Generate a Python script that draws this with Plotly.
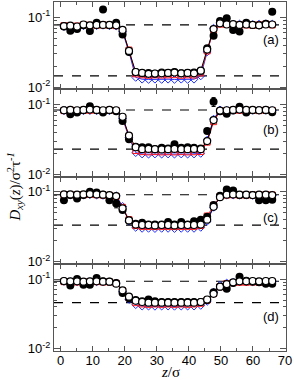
import plotly.graph_objects as go
from plotly.subplots import make_subplots

# ---------------- data ----------------
z = [1.0, 3.0, 5.1, 7.1, 9.1, 11.2, 13.2, 15.2, 17.3, 19.3, 21.3, 23.4, 25.4, 27.4,
     29.4, 31.5, 33.5, 35.5, 37.6, 39.6, 41.6, 43.7, 45.7, 47.7, 49.7, 51.8, 53.8,
     55.8, 57.9, 59.9, 61.9, 64.0, 66.0]

panel_labels = ["(a)", "(b)", "(c)", "(d)"]

open_a = [0.075,0.076,0.074,0.079,0.077,0.078,0.078,0.078,0.077,0.066,0.033,0.0165,
          0.016,0.0155,0.0157,0.0158,0.016,0.0162,0.0158,0.016,0.0158,0.0172,
          0.0345,0.068,0.082,0.079,0.080,0.078,0.079,0.078,0.077,0.079,0.079]
red_a = [0.076,0.075,0.075,0.078,0.077,0.077,0.078,0.077,0.076,0.064,0.034,0.0155,
         0.0150,0.0148,0.0150,0.0149,0.0150,0.0151,0.0148,0.0150,0.0149,0.0160,
         0.033,0.066,0.080,0.079,0.079,0.078,0.078,0.077,0.078,0.080,0.078]
blue_a = [0.074,0.074,0.073,0.076,0.075,0.076,0.077,0.076,0.075,0.062,0.032,0.0138,
          0.0130,0.0129,0.0130,0.0129,0.0130,0.0129,0.0130,0.0129,0.0130,0.0145,
          0.032,0.070,0.084,0.081,0.079,0.080,0.080,0.079,0.080,0.081,0.080]
fill_a = [0.074,0.0645,0.068,0.077,0.0635,0.0836,0.13,0.077,0.0836,0.057,0.032,0.0165,
          0.0158,0.016,0.0155,0.0162,0.016,0.0165,0.0158,0.016,0.0162,0.017,
          0.036,0.0546,0.089,0.097,0.066,0.0625,0.0836,0.078,0.077,0.081,0.12]
err_a = [0,0,0,0,0,0,0,0,0,0,0,0,0,0,0,0,0,0,0,0,0,0,0,0,0,0,0,0,0,0,0,0,0]

open_b = [0.083,0.084,0.083,0.084,0.085,0.084,0.083,0.084,0.083,0.067,0.036,0.0245,
          0.023,0.0232,0.023,0.0228,0.023,0.0232,0.023,0.023,0.0232,0.023,
          0.030,0.060,0.082,0.083,0.084,0.085,0.084,0.084,0.083,0.084,0.083]
red_b = [0.082,0.083,0.082,0.083,0.083,0.083,0.082,0.083,0.082,0.065,0.035,0.022,
         0.0212,0.021,0.0212,0.021,0.0211,0.021,0.0212,0.021,0.0211,0.0213,
         0.029,0.057,0.080,0.082,0.083,0.083,0.082,0.083,0.082,0.083,0.082]
blue_b = [0.082,0.082,0.081,0.082,0.082,0.082,0.081,0.082,0.081,0.063,0.034,0.0205,
          0.0196,0.0195,0.0196,0.0195,0.0196,0.0195,0.0196,0.0195,0.0196,0.020,
          0.031,0.062,0.084,0.083,0.083,0.084,0.083,0.083,0.083,0.083,0.082]
fill_b = [0.083,0.073,0.077,0.083,0.095,0.083,0.077,0.083,0.080,0.058,0.032,0.025,
          0.0245,0.0245,0.023,0.024,0.0235,0.027,0.024,0.0245,0.024,0.0235,
          0.042,0.11,0.080,0.074,0.082,0.093,0.077,0.083,0.083,0.083,0.078]
err_b = [0,0,0,0,0,0,0,0,0,0,0,0,0,0,0,0,0,0,0,0,0,0,0,0.016,0,0,0,0,0,0,0,0,0]

open_c = [0.092,0.092,0.091,0.092,0.093,0.092,0.091,0.090,0.087,0.058,0.039,0.034,
          0.0335,0.0335,0.033,0.0335,0.0335,0.033,0.0335,0.0335,0.0335,0.034,
          0.040,0.061,0.084,0.091,0.092,0.091,0.091,0.090,0.091,0.091,0.090]
red_c = [0.091,0.091,0.090,0.091,0.092,0.091,0.090,0.089,0.086,0.060,0.040,0.033,
         0.032,0.032,0.0318,0.032,0.032,0.0318,0.032,0.032,0.032,0.033,
         0.045,0.064,0.086,0.090,0.091,0.090,0.090,0.090,0.090,0.091,0.090]
blue_c = [0.090,0.090,0.089,0.090,0.091,0.090,0.089,0.089,0.088,0.062,0.038,0.031,
          0.030,0.030,0.0298,0.030,0.030,0.0298,0.030,0.030,0.030,0.031,
          0.038,0.060,0.085,0.090,0.090,0.090,0.090,0.089,0.090,0.090,0.089]
fill_c = [0.076,0.090,0.080,0.090,0.100,0.098,0.091,0.076,0.068,0.055,0.039,0.035,
          0.036,0.034,0.034,0.034,0.037,0.034,0.037,0.034,0.038,0.040,
          0.044,0.065,0.088,0.108,0.105,0.090,0.090,0.090,0.076,0.076,0.077]
err_c = [0,0,0,0,0,0,0,0,0.009,0,0,0,0,0,0,0,0,0,0,0,0,0,0,0,0,0,0,0,0,0,0,0,0]

open_d = [0.094,0.093,0.093,0.092,0.093,0.093,0.092,0.092,0.086,0.069,0.056,0.049,
          0.047,0.046,0.046,0.046,0.046,0.046,0.046,0.046,0.046,0.047,
          0.051,0.0615,0.078,0.085,0.090,0.093,0.093,0.094,0.093,0.094,0.094]
red_d = [0.092,0.092,0.091,0.091,0.092,0.092,0.091,0.091,0.087,0.068,0.054,0.046,
         0.044,0.0435,0.044,0.0435,0.044,0.0435,0.044,0.0435,0.044,0.045,
         0.050,0.062,0.078,0.086,0.089,0.090,0.090,0.091,0.090,0.090,0.091]
blue_d = [0.093,0.092,0.092,0.091,0.092,0.092,0.091,0.091,0.088,0.066,0.051,0.043,
          0.041,0.041,0.0408,0.041,0.041,0.0408,0.041,0.041,0.041,0.042,
          0.048,0.065,0.082,0.088,0.090,0.091,0.091,0.092,0.091,0.091,0.092]
fill_d = [0.093,0.081,0.100,0.083,0.083,0.104,0.093,0.092,0.088,0.063,0.053,0.050,
          0.048,0.051,0.048,0.047,0.047,0.047,0.047,0.047,0.047,0.047,
          0.050,0.065,0.078,0.073,0.088,0.108,0.095,0.092,0.090,0.086,0.086]
err_d = [0,0,0,0,0,0,0,0,0,0,0,0,0,0,0,0,0,0,0,0,0,0,0,0,0,0,0,0,0,0,0,0,0]

upper_ref = [0.078, 0.0835, 0.091, 0.093]
lower_ref = [0.0145, 0.023, 0.0334, 0.046]

x_ticks = [0, 10, 20, 30, 40, 50, 60, 70]
y_tickvals = [0.01, 0.1]
y_ticktext = ["10<sup>-2</sup>", "10<sup>-1</sup>"]

panels = [
    (open_a, red_a, blue_a, fill_a, err_a),
    (open_b, red_b, blue_b, fill_b, err_b),
    (open_c, red_c, blue_c, fill_c, err_c),
    (open_d, red_d, blue_d, fill_d, err_d),
]

# ---------------- figure ----------------
fig = make_subplots(rows=4, cols=1, shared_xaxes=True, vertical_spacing=0)

XMIN, XMAX = -2.1, 70.3
for i, (op, rd, bl, fl, er) in enumerate(panels):
    r = i + 1
    for val in (upper_ref[i], lower_ref[i]):
        fig.add_trace(go.Scatter(x=[XMIN, XMAX], y=[val, val], mode="lines",
                                 line=dict(color="black", width=1.1, dash="dash"),
                                 showlegend=False, hoverinfo="skip"), row=r, col=1)
    fig.add_trace(go.Scatter(x=z, y=bl, mode="lines+markers",
                             line=dict(color="#1f2fff", width=1),
                             marker=dict(symbol="diamond-open", size=6, color="#1f2fff",
                                         line=dict(width=1)),
                             showlegend=False), row=r, col=1)
    fig.add_trace(go.Scatter(x=z, y=rd, mode="lines+markers",
                             line=dict(color="#ff1a1a", width=1),
                             marker=dict(symbol="square-open", size=6, color="#ff1a1a",
                                         line=dict(width=1)),
                             showlegend=False), row=r, col=1)
    fig.add_trace(go.Scatter(x=z, y=fl, mode="markers",
                             marker=dict(symbol="circle", size=8, color="black"),
                             error_y=dict(type="data", array=er, color="black",
                                          thickness=1, width=2),
                             showlegend=False), row=r, col=1)
    fig.add_trace(go.Scatter(x=z, y=op, mode="lines+markers",
                             line=dict(color="black", width=1),
                             marker=dict(symbol="circle", size=7, color="white",
                                         line=dict(color="black", width=1.2)),
                             showlegend=False), row=r, col=1)

axis_color = "#555555"
minor_y = [0.009, 0.02, 0.03, 0.04, 0.05, 0.06, 0.07, 0.08, 0.09, 0.2, 0.3, 0.4, 0.5, 0.6]
for r in range(1, 5):
    fig.update_yaxes(type="log", range=[-2.03, -0.78], automargin=False,
                     tickvals=y_tickvals, ticktext=y_ticktext,
                     ticks="inside", ticklen=6, tickwidth=1, tickcolor=axis_color,
                     minor=dict(tickvals=minor_y, ticks="inside", ticklen=3,
                                tickcolor=axis_color, showgrid=False),
                     showline=True, linecolor=axis_color, linewidth=1.2,
                     mirror="allticks", showgrid=False, zeroline=False,
                     tickfont=dict(family="Liberation Sans", size=13, color="black"),
                     row=r, col=1)
    fig.update_xaxes(range=[XMIN, XMAX], tickvals=x_ticks, automargin=False,
                     ticks="inside", ticklen=5, tickwidth=1, tickcolor=axis_color,
                     minor=dict(dtick=5, tick0=0, ticks="inside", ticklen=3,
                                tickcolor=axis_color, showgrid=False),
                     showline=True, linecolor=axis_color, linewidth=1.2,
                     mirror="allticks", showgrid=False, zeroline=False,
                     showticklabels=(r == 4), ticklabelstandoff=-3,
                     tickfont=dict(family="Liberation Sans", size=13, color="black"),
                     row=r, col=1)

annotations = []
label_y = [0.57, 0.54, 0.53, 0.40]
for i, lab in enumerate(panel_labels):
    yref = "y domain" if i == 0 else f"y{i+1} domain"
    xref = "x domain" if i == 0 else f"x{i+1} domain"
    annotations.append(dict(text=lab, xref=xref, yref=yref, x=0.935, y=label_y[i],
                            showarrow=False, xanchor="center", yanchor="middle",
                            font=dict(family="Liberation Sans", size=13, color="black")))

annotations.append(dict(text="<i>z</i>/σ", xref="paper", yref="paper", x=0.5, y=-0.06,
                        showarrow=False, xanchor="center", yanchor="middle",
                        font=dict(family="Liberation Serif", size=15, color="black")))
annotations.append(dict(text="<i>D</i><sub><i>xy</i></sub>(<i>z</i>)/σ<sup>2</sup>τ<sup><i>-1</i></sup>",
                        xref="paper", yref="paper", x=-0.17, y=0.47, textangle=-90,
                        showarrow=False, xanchor="center", yanchor="middle",
                        font=dict(family="Liberation Serif", size=15, color="black")))

fig.update_layout(width=294, height=380,
                  margin=dict(l=54, r=8, t=2, b=29),
                  plot_bgcolor="white", paper_bgcolor="white",
                  annotations=annotations, showlegend=False)

fig.write_html("out.html", config={"displayModeBar": False},
               post_script="document.body.style.margin='0';")
